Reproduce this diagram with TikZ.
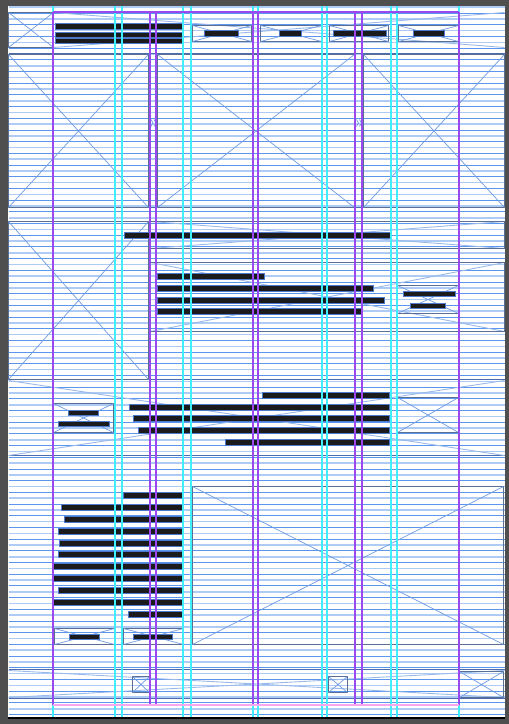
\documentclass[tikz,border=0pt]{standalone}
\definecolor{wireFrame}{HTML}{4F4F4F}
\definecolor{gridRow}{HTML}{5A96EE}
\definecolor{gridRowLight}{HTML}{AECBF6}
\definecolor{guidePurple}{HTML}{9A48F0}
\definecolor{guideCyan}{HTML}{3FEFFF}
\definecolor{guidePink}{HTML}{F7A6F0}
\definecolor{boxLine}{HTML}{5B6E93}
\definecolor{crossLine}{HTML}{6E9BE2}
\definecolor{barFill}{HTML}{1B1B1E}
\definecolor{barLine}{HTML}{4C79C9}
\definecolor{sepLine}{HTML}{4A6DB0}
\tikzset{
  wirefig/.style={x=1bp, y=-1bp, line join=miter},
  rowline/.style={draw=gridRow, line width=1bp},
  rowlight/.style={draw=gridRowLight, line width=1.6bp},
  colpurple/.style={draw=guidePurple, line width=1.6bp},
  colcyan/.style={draw=guideCyan, line width=1.6bp},
  phbox/.style={draw=boxLine, line width=1.1bp},
  phcross/.style={draw=crossLine, line width=0.7bp},
  % grosse Flaechen: nur blasses Kreuz
  faintcross/.style={draw=crossLine!70, line width=0.9bp},
  txtbar/.style={fill=barFill, draw=barLine, line width=0.6bp},
  sepline/.style={draw=sepLine, line width=1.4bp},
}
\newcommand{\phimage}[4]{%
  \draw[phbox] (#1,#2) rectangle (#3,#4);
  \draw[phcross] (#1,#2) -- (#3,#4) (#1,#4) -- (#3,#2);}
\newcommand{\phwide}[4]{%
  \draw[faintcross] (#1,#2) -- (#3,#4) (#1,#4) -- (#3,#2);}
\begin{document}
\begin{tikzpicture}[wirefig]
  \useasboundingbox (0,0) rectangle (509,724);
  \fill[wireFrame] (0,0) rectangle (509,724);
  \fill[white] (8,6) rectangle (505,717);
  \draw[black, line width=1.5bp] (8,718) -- (505,718);
  \begin{scope}[shift={(0.5,0.5)}]
  % Zeilenraster
  \foreach \i in {0,...,121} {
    \ifodd\i
      \draw[rowline] (8,6.8+5.845*\i) -- (504,6.8+5.845*\i);
    \else
      \draw[rowlight] (8,6.8+5.845*\i) -- (504,6.8+5.845*\i);
    \fi
  }
  % Abschnittsgrenzen
  \foreach \y in {53,207,379,455,669,698} {
    \draw[sepline] (8,\y) -- (504,\y);
  }
  % Kopfzeile
  \phwide{53}{12}{504}{47}
  \phimage{8}{12}{53}{47}
  \foreach \xa/\ya/\xb/\yb in {55/23/182/29, 55/31.5/182/36.5, 55/37.5/182/42.5} {
    \draw[txtbar] (\xa,\ya) rectangle (\xb,\yb);
  }
  \foreach \xa/\xb/\ba/\bb in {192/251/204/238, 260/321/279/301, 329/388/333/386, 398/458/413/444} {
    \phimage{\xa}{25}{\xb}{41}
    \draw[txtbar] (\ba,30) rectangle (\bb,36);
  }
  % Bildstreifen
  \phimage{8}{54}{148}{207}
  \phimage{157}{54}{354}{207}
  \phimage{363}{54}{504}{207}
  \foreach \xc in {152.5,358} {
    \draw[crossLine, line width=0.7bp] (\xc-2,119) -- (\xc,122.5) -- (\xc-2,126)
      (\xc+1,119) -- (\xc+3,122.5) -- (\xc+1,126);
  }
  % Bild und Text
  \phimage{8}{221}{148}{379}
  \phwide{150}{221}{504}{248}
  \draw[phbox] (150,221) rectangle (504,248);
  \draw[txtbar] (124,232) rectangle (390,237.5);
  \phwide{150}{262}{504}{331}
  \draw[phbox] (150,262) rectangle (504,331);
  \foreach \xb/\ya in {264/273, 373/285, 384/297, 362/308} {
    \draw[txtbar] (157,\ya) rectangle (\xb,\ya+5.5);
  }
  \phimage{397}{285}{458}{313}
  \draw[txtbar] (403,291) rectangle (455,296);
  \draw[txtbar] (410,303) rectangle (445,307.5);
  % Banner
  \phwide{8}{380}{504}{455}
  \phimage{53}{403}{113}{432}
  \draw[txtbar] (68,410) rectangle (98,414.5);
  \draw[txtbar] (58,421) rectangle (109,426);
  \foreach \xa/\ya in {262/392, 129/404, 133/415, 138/427, 225/439} {
    \draw[txtbar] (\xa,\ya) rectangle (389,\ya+5.5);
  }
  \phimage{397}{397}{458}{432}
  % Text links, Bild rechts
  \foreach \xa/\ya in {123/492, 61/504, 64/516, 58/528, 59/540, 58/551,
                      53/563, 53/575, 58/587, 53/599, 128/611} {
    \draw[txtbar] (\xa,\ya) rectangle (183,\ya+5.5);
  }
  \phimage{54}{628}{114}{644}
  \draw[txtbar] (69,634) rectangle (99,639);
  \phimage{123}{628}{183}{644}
  \draw[txtbar] (133,634) rectangle (172,639);
  \phimage{192}{486}{503}{644}
  % Fusszeile
  \phwide{8}{670}{504}{697}
  \phimage{132}{676}{149}{692}
  \phimage{328}{676}{347}{692}
  \phimage{459}{671}{503}{697}
  \end{scope}
  % Spaltenraster
  \foreach \x in {53,115,122,183,191,253,258,322,327,391,397,459} {
    \draw[colcyan] (\x,6) -- (\x,717);
  }
  \foreach \x in {53,253,258,459} {
    \draw[colpurple] (\x,12) -- (\x,705);
  }
  \foreach \x in {150,156,355,362} {
    \draw[colpurple] (\x,12) -- (\x,705);
  }
  \draw[colpurple] (53,12) -- (459,12);
  \draw[guidePink, line width=1.6bp] (53,705) -- (459,705);
\end{tikzpicture}
\end{document}
